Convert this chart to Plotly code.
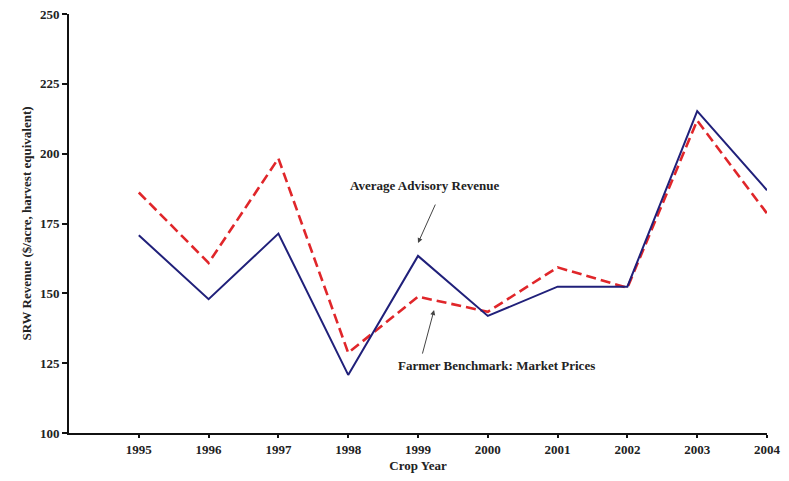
import plotly.graph_objects as go

years = [1995, 1996, 1997, 1998, 1999, 2000, 2001, 2002, 2003, 2004]
advisory = [170.8, 147.9, 171.4, 120.8, 163.4, 141.9, 152.4, 152.4, 215.2, 186.9]
benchmark = [186.1, 160.9, 198.3, 128.7, 148.8, 143.4, 159.3, 152.0, 211.9, 178.6]
y_ticks = [100, 125, 150, 175, 200, 225, 250]

FONT = "Liberation Serif"
FS = 13

fig = go.Figure()
fig.add_trace(go.Scatter(x=years, y=benchmark, mode="lines",
                         line=dict(color="#e0262a", width=2.6, dash="10px,5px"),
                         name="Farmer Benchmark: Market Prices", showlegend=False))
fig.add_trace(go.Scatter(x=years, y=advisory, mode="lines",
                         line=dict(color="#20207a", width=2),
                         name="Average Advisory Revenue", showlegend=False))

# page body has an 8px margin, so the figure is sized to fit the window
fig.update_layout(
    width=773, height=465,
    margin=dict(l=61, r=14, t=6, b=40),
    paper_bgcolor="white", plot_bgcolor="white",
    font=dict(family=FONT, size=FS, color="#222", weight="bold"),
    xaxis=dict(range=[1994, 2004], tickvals=years, ticktext=[str(y) for y in years],
               automargin=False, ticklabeloverflow="allow",
               showgrid=False, zeroline=False, showline=True, linecolor="#111", linewidth=2,
               ticks="outside", ticklen=3, tickwidth=1.5, tickcolor="#111",
               tickfont=dict(family=FONT, size=FS, weight="bold"),
               title=dict(text="Crop Year", font=dict(family=FONT, size=FS, weight="bold"), standoff=8)),
    yaxis=dict(range=[100, 250], tickvals=y_ticks,
               automargin=False, ticklabeloverflow="allow",
               showgrid=False, zeroline=False, showline=True, linecolor="#111", linewidth=2,
               ticks="outside", ticklen=5, tickwidth=1.5, tickcolor="#111",
               tickfont=dict(family=FONT, size=FS, weight="bold"),
               title=dict(text="SRW Revenue ($/acre, harvest equivalent)",
                          font=dict(family=FONT, size=FS, weight="bold"), standoff=5)),
)

fig.add_annotation(x=1999.0, y=168, ax=18, ay=-40, text="", showarrow=True,
                   arrowhead=2, arrowsize=1, arrowwidth=1, arrowcolor="#444")
fig.add_annotation(x=1999.23, y=144, ax=-12, ay=45, text="", showarrow=True,
                   arrowhead=2, arrowsize=1, arrowwidth=1, arrowcolor="#444")
fig.add_annotation(x=1999.1, y=188.7, text="Average Advisory Revenue", showarrow=False,
                   font=dict(family=FONT, size=FS, weight="bold", color="#222"))
fig.add_annotation(x=2000.13, y=124, text="Farmer Benchmark: Market Prices", showarrow=False,
                   font=dict(family=FONT, size=FS, weight="bold", color="#222"))

fig.write_html("out.html")
